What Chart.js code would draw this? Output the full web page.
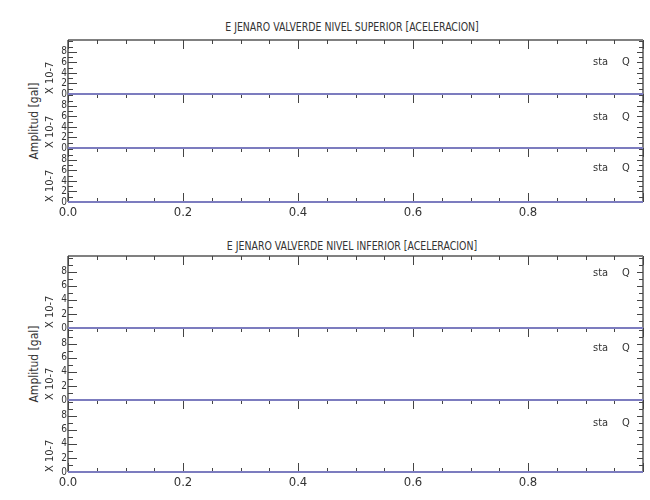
<!DOCTYPE html>
<html>
<head>
<meta charset="utf-8">
<script src="https://cdn.jsdelivr.net/npm/chart.js@4.4.0/dist/chart.umd.min.js"></script>
<style>
  body { margin: 0; background: #fff; }
  #wrap { position: relative; width: 650px; height: 500px; overflow: hidden;
          font-family: 'Liberation Sans Narrow', 'DejaVu Sans Condensed', sans-serif; color: #333; }
  #wrap canvas { position: absolute; left: 0; }
  .titulo { position: absolute; white-space: nowrap; font-size: 12px; transform: translate(-50%, -50%) scaleX(0.87); }
  .amp { position: absolute; white-space: nowrap; font-size: 12px; transform: translate(-50%, -50%) rotate(-90deg); }
</style>
</head>
<body>
<div id="wrap"></div>
<script>
// datos de las seis trazas (todas en cero)
const tiempo = [0.0, 1.0];
const superiorCanal1 = [0, 0];
const superiorCanal2 = [0, 0];
const superiorCanal3 = [0, 0];
const inferiorCanal1 = [0, 0];
const inferiorCanal2 = [0, 0];
const inferiorCanal3 = [0, 0];

// marcas de los ejes
const xTickLabels = [0.0, 0.2, 0.4, 0.6, 0.8];
const yTickLabels = [0, 2, 4, 6, 8];

// textos
const titulos = ['E JENARO VALVERDE NIVEL SUPERIOR [ACELERACION]', 'E JENARO VALVERDE NIVEL INFERIOR [ACELERACION]'];
const ejeY = 'X 10-7';
const unidad = 'Amplitud [gal]';
const estacion = ['sta', 'Q'];

const fuente = "'Liberation Sans Narrow', 'DejaVu Sans Condensed', sans-serif";
const colorTexto = '#333';

// disposición de cada grupo (px)
const grupos = [
  { top: 40, alto: 54, tituloY: 27, staY: [22, 23, 20], series: [superiorCanal1, superiorCanal2, superiorCanal3] },
  { top: 256, alto: 72, tituloY: 246, staY: [17, 20, 23], series: [inferiorCanal1, inferiorCanal2, inferiorCanal3] }
];

// marco y marcas hacia adentro, estilo IDL
const marco = {
  id: 'marco',
  beforeDatasetsDraw(chart, args, opts) {
    const { ctx, chartArea: a, scales: { x, y } } = chart;
    ctx.save();
    ctx.strokeStyle = '#808080';
    ctx.lineWidth = 2;
    ctx.beginPath();
    if (opts.primero) {
      ctx.moveTo(a.left, a.top);
      ctx.lineTo(a.right, a.top);
    }
    ctx.moveTo(a.left, a.top);
    ctx.lineTo(a.left, a.bottom);
    ctx.moveTo(a.right, a.top);
    ctx.lineTo(a.right, a.bottom);
    ctx.stroke();

    ctx.strokeStyle = '#444';
    ctx.lineWidth = 1;
    ctx.beginPath();
    x.ticks.forEach(t => {
      const v = Math.round(t.value * 100);
      const px = Math.round(x.getPixelForValue(t.value)) + 0.5;
      const len = v % 20 === 0 ? 9 : 4;
      ctx.moveTo(px, a.top);
      ctx.lineTo(px, a.top + len);
      if (opts.ultimo) {
        ctx.moveTo(px, a.bottom);
        ctx.lineTo(px, a.bottom - len);
      }
    });
    y.ticks.forEach(t => {
      if (!Number.isInteger(t.value)) return;
      const py = Math.round(y.getPixelForValue(t.value)) + 0.5;
      const mayor = yTickLabels.includes(t.value);
      ctx.moveTo(a.left, py);
      ctx.lineTo(a.left + (mayor ? 9 : 5), py);
      ctx.moveTo(a.right, py);
      ctx.lineTo(a.right - (mayor ? 6 : 4), py);
    });
    ctx.stroke();
    ctx.restore();
  },
  afterDatasetsDraw(chart, args, opts) {
    const { ctx, chartArea: a } = chart;
    ctx.save();
    ctx.fillStyle = colorTexto;
    ctx.font = '11px ' + fuente;
    ctx.textBaseline = 'middle';
    ctx.textAlign = 'left';
    ctx.fillText(estacion[0], a.right - 50, a.top + opts.staY);
    ctx.fillText(estacion[1], a.right - 21, a.top + opts.staY);
    ctx.restore();
  }
};

const wrap = document.getElementById('wrap');

grupos.forEach((g, gi) => {
  // título del grupo
  const t = document.createElement('div');
  t.className = 'titulo';
  t.textContent = titulos[gi];
  t.style.left = '352px';
  t.style.top = g.tituloY + 'px';
  wrap.appendChild(t);

  // etiqueta de amplitud
  const amp = document.createElement('div');
  amp.className = 'amp';
  amp.textContent = unidad;
  amp.style.left = '34px';
  amp.style.top = (g.top + g.alto * 1.5) + 'px';
  wrap.appendChild(amp);

  g.series.forEach((serie, i) => {
    const primero = i === 0;
    const ultimo = i === g.series.length - 1;
    const abajo = ultimo ? 22 : 12;
    const canvas = document.createElement('canvas');
    canvas.width = 650;
    canvas.height = 12 + g.alto + abajo;
    canvas.style.top = (g.top + i * g.alto - 12) + 'px';
    canvas.style.zIndex = String(10 - i);
    wrap.appendChild(canvas);

    new Chart(canvas.getContext('2d'), {
      type: 'line',
      data: {
        datasets: [{
          data: tiempo.map((tt, k) => ({ x: tt, y: serie[k] })),
          borderColor: '#7c7cbf',
          borderWidth: 2,
          pointRadius: 0,
          clip: false
        }]
      },
      options: {
        responsive: false,
        animation: false,
        layout: { padding: { top: 12, right: 7, left: 0, bottom: 0 } },
        scales: {
          x: {
            type: 'linear',
            min: 0,
            max: 1,
            afterFit: s => { s.height = abajo; },
            grid: { display: false, drawTicks: false, tickLength: 0 },
            border: { display: false },
            ticks: {
              display: ultimo,
              stepSize: 0.05,
              autoSkip: false,
              maxRotation: 0,
              padding: 3,
              color: colorTexto,
              font: { family: fuente, size: 13 },
              callback: v => {
                const r = Math.round(v * 10) / 10;
                return (Math.abs(v - r) < 1e-6 && xTickLabels.includes(r)) ? r.toFixed(1) : '';
              }
            }
          },
          y: {
            min: 0,
            max: 10.25,
            afterFit: s => { s.width = 68; },
            grid: { display: false, drawTicks: false, tickLength: 0 },
            border: { display: false },
            ticks: {
              stepSize: 1,
              autoSkip: false,
              includeBounds: false,
              padding: 1,
              color: colorTexto,
              font: { family: fuente, size: 10 },
              callback: v => yTickLabels.includes(v) ? String(v) : ''
            },
            title: {
              display: true,
              text: ejeY,
              align: 'start',
              padding: { top: 44, bottom: 0 },
              color: colorTexto,
              font: { family: fuente, size: 11 }
            }
          }
        },
        plugins: {
          legend: { display: false },
          tooltip: { enabled: false },
          marco: { primero: primero, ultimo: ultimo, staY: g.staY[i] }
        }
      },
      plugins: [marco]
    });
  });
});
</script>
</body>
</html>
